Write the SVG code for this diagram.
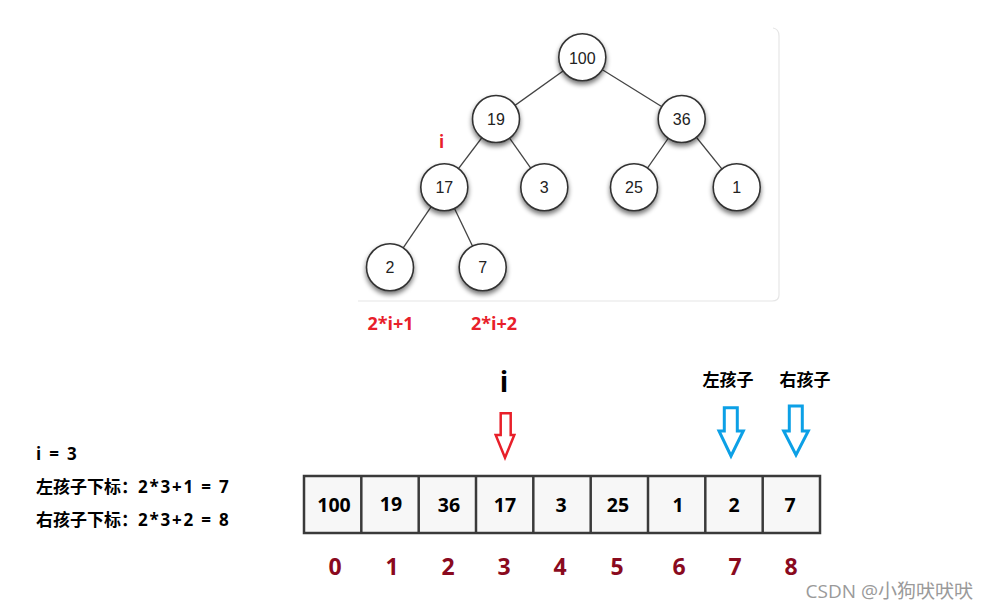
<svg xmlns="http://www.w3.org/2000/svg" width="989" height="610" viewBox="0 0 989 610">
<defs>
<filter id="sh" x="-40%" y="-40%" width="180%" height="190%">
<feGaussianBlur in="SourceAlpha" stdDeviation="2.5"/>
<feOffset dx="0" dy="3" result="b"/>
<feComponentTransfer in="b" result="c"><feFuncA type="linear" slope="0.55"/></feComponentTransfer>
<feMerge><feMergeNode in="c"/><feMergeNode in="SourceGraphic"/></feMerge>
</filter>
<style>
.node circle{fill:#fff;stroke:#333;stroke-width:1.6}
.node text{font-family:"Liberation Sans",Arial,sans-serif;font-size:16px;fill:#222;text-anchor:middle}
.edge{stroke:#444;stroke-width:1.3}
.b{font-family:"Open Sans","Noto Sans CJK SC",sans-serif;font-weight:bold}
.red{fill:#e8202a}
.cell text{font-size:19.5px;fill:#000;text-anchor:middle}
.idx{font-size:23px;fill:#8a0a1e;text-anchor:middle}
.arr{fill:#fff;stroke-linejoin:miter}
.sp{letter-spacing:1.8px}
</style>
</defs>
<rect width="989" height="610" fill="#fff"/>
<path d="M773,28 Q779,29 779,36 V295 Q779,301 772,301 H358" fill="none" stroke="#e6e6e6" stroke-width="1.2"/>
<g id="connectors">
<line class="edge" x1="582.3" y1="57.3" x2="496" y2="119"/>
<line class="edge" x1="582.3" y1="57.3" x2="681.7" y2="119"/>
<line class="edge" x1="496" y1="119" x2="444.3" y2="187.3"/>
<line class="edge" x1="496" y1="119" x2="544.3" y2="187.3"/>
<line class="edge" x1="681.7" y1="119" x2="634" y2="187.3"/>
<line class="edge" x1="681.7" y1="119" x2="736.7" y2="187.3"/>
<line class="edge" x1="444.3" y1="187.3" x2="390" y2="267.3"/>
<line class="edge" x1="444.3" y1="187.3" x2="482.7" y2="267.3"/>
</g>
<g id="n100" class="node"><circle cx="582.3" cy="57.3" r="23.5" filter="url(#sh)"/><text x="582.3" y="63.5">100</text></g>
<g id="n19" class="node"><circle cx="496" cy="119" r="23.5" filter="url(#sh)"/><text x="496" y="125">19</text></g>
<g id="n36" class="node"><circle cx="681.7" cy="119" r="23.5" filter="url(#sh)"/><text x="681.7" y="125">36</text></g>
<g id="n17" class="node"><circle cx="444.3" cy="187.3" r="23.5" filter="url(#sh)"/><text x="444.3" y="193.3">17</text></g>
<g id="n3" class="node"><circle cx="544.3" cy="187.3" r="23.5" filter="url(#sh)"/><text x="544.3" y="193.3">3</text></g>
<g id="n25" class="node"><circle cx="634" cy="187.3" r="23.5" filter="url(#sh)"/><text x="634" y="193.3">25</text></g>
<g id="n1" class="node"><circle cx="736.7" cy="187.3" r="23.5" filter="url(#sh)"/><text x="736.7" y="193.3">1</text></g>
<g id="n2" class="node"><circle cx="390" cy="267.3" r="23.5" filter="url(#sh)"/><text x="390" y="273.3">2</text></g>
<g id="n7" class="node"><circle cx="482.7" cy="267.3" r="23.5" filter="url(#sh)"/><text x="482.7" y="273.3">7</text></g>
<g id="tree-labels" class="b red">
<text x="441.7" y="148" font-size="17" text-anchor="middle">i</text>
<text x="390.5" y="330" font-size="18" text-anchor="middle">2*i+1</text>
<text x="494" y="330" font-size="18" text-anchor="middle">2*i+2</text>
</g>
<g id="formulas" class="b" font-size="17" fill="#000">
<text x="36" y="460" class="sp">i = 3</text>
<text x="36" y="493">左孩子下标：<tspan class="sp">2*3+1 = 7</tspan></text>
<text x="36" y="526">右孩子下标：<tspan class="sp">2*3+2 = 8</tspan></text>
</g>
<g id="array" class="cell b">
<rect x="304" y="476" width="516" height="57" fill="#f7f7f7" stroke="#3a3a3a" stroke-width="2.5"/>
<g stroke="#3a3a3a" stroke-width="2.5">
<line x1="361.3" y1="476" x2="361.3" y2="533"/>
<line x1="418.7" y1="476" x2="418.7" y2="533"/>
<line x1="476" y1="476" x2="476" y2="533"/>
<line x1="533.3" y1="476" x2="533.3" y2="533"/>
<line x1="590.7" y1="476" x2="590.7" y2="533"/>
<line x1="648" y1="476" x2="648" y2="533"/>
<line x1="705.3" y1="476" x2="705.3" y2="533"/>
<line x1="762.7" y1="476" x2="762.7" y2="533"/>
</g>
<text x="334" y="512">100</text>
<text x="391" y="511">19</text>
<text x="449" y="512">36</text>
<text x="505" y="512">17</text>
<text x="561" y="512">3</text>
<text x="618" y="512">25</text>
<text x="678" y="512">1</text>
<text x="734" y="512">2</text>
<text x="790" y="512">7</text>
</g>
<g id="indices" class="b idx">
<text x="335" y="575">0</text>
<text x="392" y="575">1</text>
<text x="448" y="575">2</text>
<text x="504" y="575">3</text>
<text x="560" y="575">4</text>
<text x="617" y="575">5</text>
<text x="679" y="575">6</text>
<text x="735" y="575">7</text>
<text x="791" y="575">8</text>
</g>
<g id="ptr-i">
<text class="b" x="504" y="392" font-size="28" text-anchor="middle" fill="#000">i</text>
<path class="arr" d="M500.7,413.3 H510.7 V435 H514.3 L505,457.7 L495.7,435 H500.7 Z" stroke="#e8202a" stroke-width="2.5"/>
</g>
<g id="ptr-left">
<text class="b" x="728" y="386" font-size="17" text-anchor="middle" fill="#000">左孩子</text>
<path class="arr" d="M724.3,407.7 H737.3 V431 H743.3 L731,456 L719,431 H724.3 Z" stroke="#0ca0e6" stroke-width="3"/>
</g>
<g id="ptr-right">
<text class="b" x="805" y="386" font-size="17" text-anchor="middle" fill="#000">右孩子</text>
<path class="arr" d="M789.3,406 H802.3 V431 H808.3 L796,455 L783.7,431 H789.3 Z" stroke="#0ca0e6" stroke-width="3"/>
</g>
<text x="973" y="598" font-family="'Open Sans','Noto Sans CJK SC',sans-serif" font-size="19" fill="#9a9a9a" text-anchor="end">CSDN @小狗吠吠吠</text>
</svg>
